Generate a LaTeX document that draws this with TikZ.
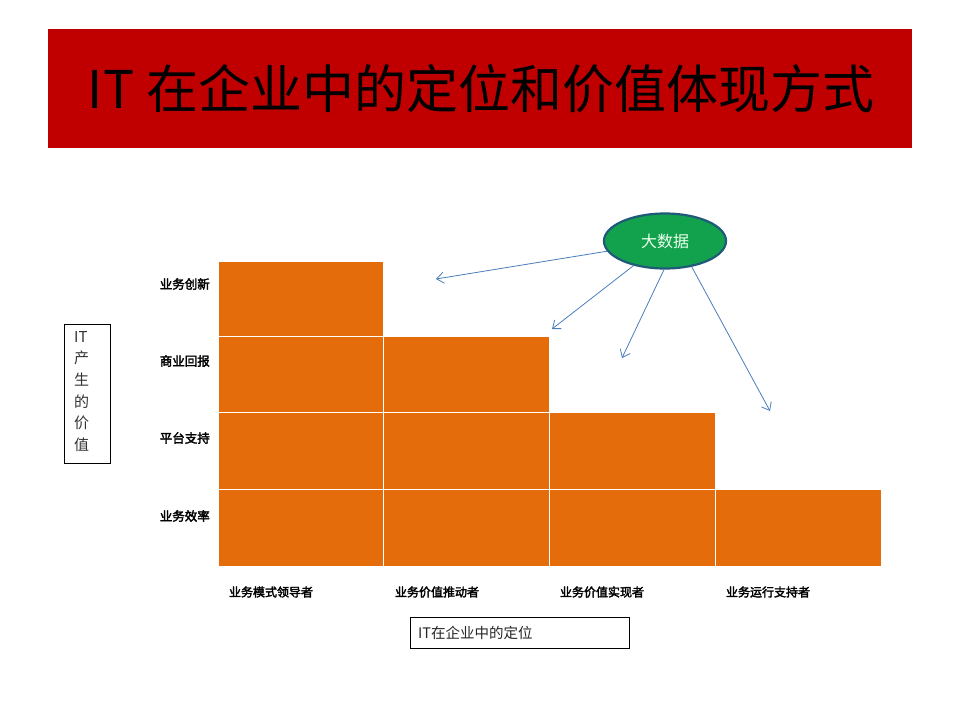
\documentclass[tikz,border=0pt]{standalone}
\usepackage{fontspec}
\setmainfont{Liberation Sans}
\newfontfamily\cjk{Noto Sans CJK SC}
\newfontfamily\cjkb[FakeBold=2.5]{Noto Sans CJK SC}
\usetikzlibrary{arrows.meta,shapes.geometric}
\definecolor{titlered}{HTML}{C00000}
\definecolor{cellorange}{HTML}{E46C0A}
\definecolor{ellgreen}{HTML}{12A24E}
\definecolor{ellborder}{HTML}{1F5A78}
\definecolor{arrowblue}{HTML}{4A7EBB}
\tikzset{
  cell/.style={fill=cellorange,draw=white,line width=1pt},
  rowlab/.style={anchor=east,font=\cjkb\fontsize{12.5}{14}\selectfont,inner sep=0pt},
  collab/.style={anchor=center,font=\cjkb\fontsize{12}{14}\selectfont,inner sep=0pt},
  bigdata/.style={->,>={Straight Barb[length=7pt,width=11pt]},draw=arrowblue,line width=0.8pt},
  framebox/.style={draw=black,line width=0.8pt,fill=white}
}
\begin{document}
\begin{tikzpicture}[x=1pt,y=-1pt]
\useasboundingbox (0,0) rectangle (960,720);
\fill[white] (0,0) rectangle (960,720);
% title
\node[fill=titlered,minimum width=864pt,minimum height=119pt,inner sep=0pt,anchor=north west] (title) at (48,29) {};
\node[font=\cjk\fontsize{52}{56}\selectfont,text=black,inner sep=0pt] (titletext) at (481,89) {IT 在企业中的定位和价值体现方式};
% grid
\draw[cell] (218,261) rectangle (383.5,336);
\draw[cell] (218,336) rectangle (383.5,412);
\draw[cell] (383.5,336) rectangle (549,412);
\draw[cell] (218,412) rectangle (383.5,489);
\draw[cell] (383.5,412) rectangle (549,489);
\draw[cell] (549,412) rectangle (715,489);
\draw[cell] (218,489) rectangle (383.5,566);
\draw[cell] (383.5,489) rectangle (549,566);
\draw[cell] (549,489) rectangle (715,566);
\draw[cell] (715,489) rectangle (881,566);
% row labels
\node[rowlab] (r1) at (210,284) {业务创新};
\node[rowlab] (r2) at (210,361) {商业回报};
\node[rowlab] (r3) at (210,438) {平台支持};
\node[rowlab] (r4) at (210,516) {业务效率};
% column labels
\node[collab] (c1) at (271,592) {业务模式领导者};
\node[collab] (c2) at (437,592) {业务价值推动者};
\node[collab] (c3) at (602,592) {业务价值实现者};
\node[collab] (c4) at (768,592) {业务运行支持者};
% left value box
\node[framebox,minimum width=46pt,minimum height=139pt,inner sep=0pt,anchor=north west] (valbox) at (64,324) {};
\node[font=\cjk\fontsize{15}{21.6}\selectfont,text=black!80,align=left,anchor=north west,inner sep=0pt] (valtext) at (74,331) {IT\\产\\生\\的\\价\\值};
% bottom position box
\node[framebox,minimum width=219pt,minimum height=31pt,inner sep=0pt,anchor=north west] (posbox) at (410,617) {};
\node[font=\cjk\fontsize{14.5}{17}\selectfont,text=black!85,anchor=west,inner sep=0pt] (postext) at (418,632.5) {IT在企业中的定位};
% big data ellipse
\node[ellipse,fill=ellgreen,draw=ellborder,line width=2.2pt,minimum width=122pt,minimum height=55pt,inner sep=0pt,font=\cjk\fontsize{16}{18}\selectfont,text=white!92!green] (bd) at (665,241) {大数据};
% arrow targets
\coordinate (t1) at (436,279);
\coordinate (t2) at (552,329);
\coordinate (t3) at (622,358);
\coordinate (t4) at (770,411);
\draw[bigdata] (bd.190) -- (t1);
\draw[bigdata] (bd.218) -- (t2);
\draw[bigdata] (bd.268) -- (t3);
\draw[bigdata] (bd.316) -- (t4);
\end{tikzpicture}
\end{document}
